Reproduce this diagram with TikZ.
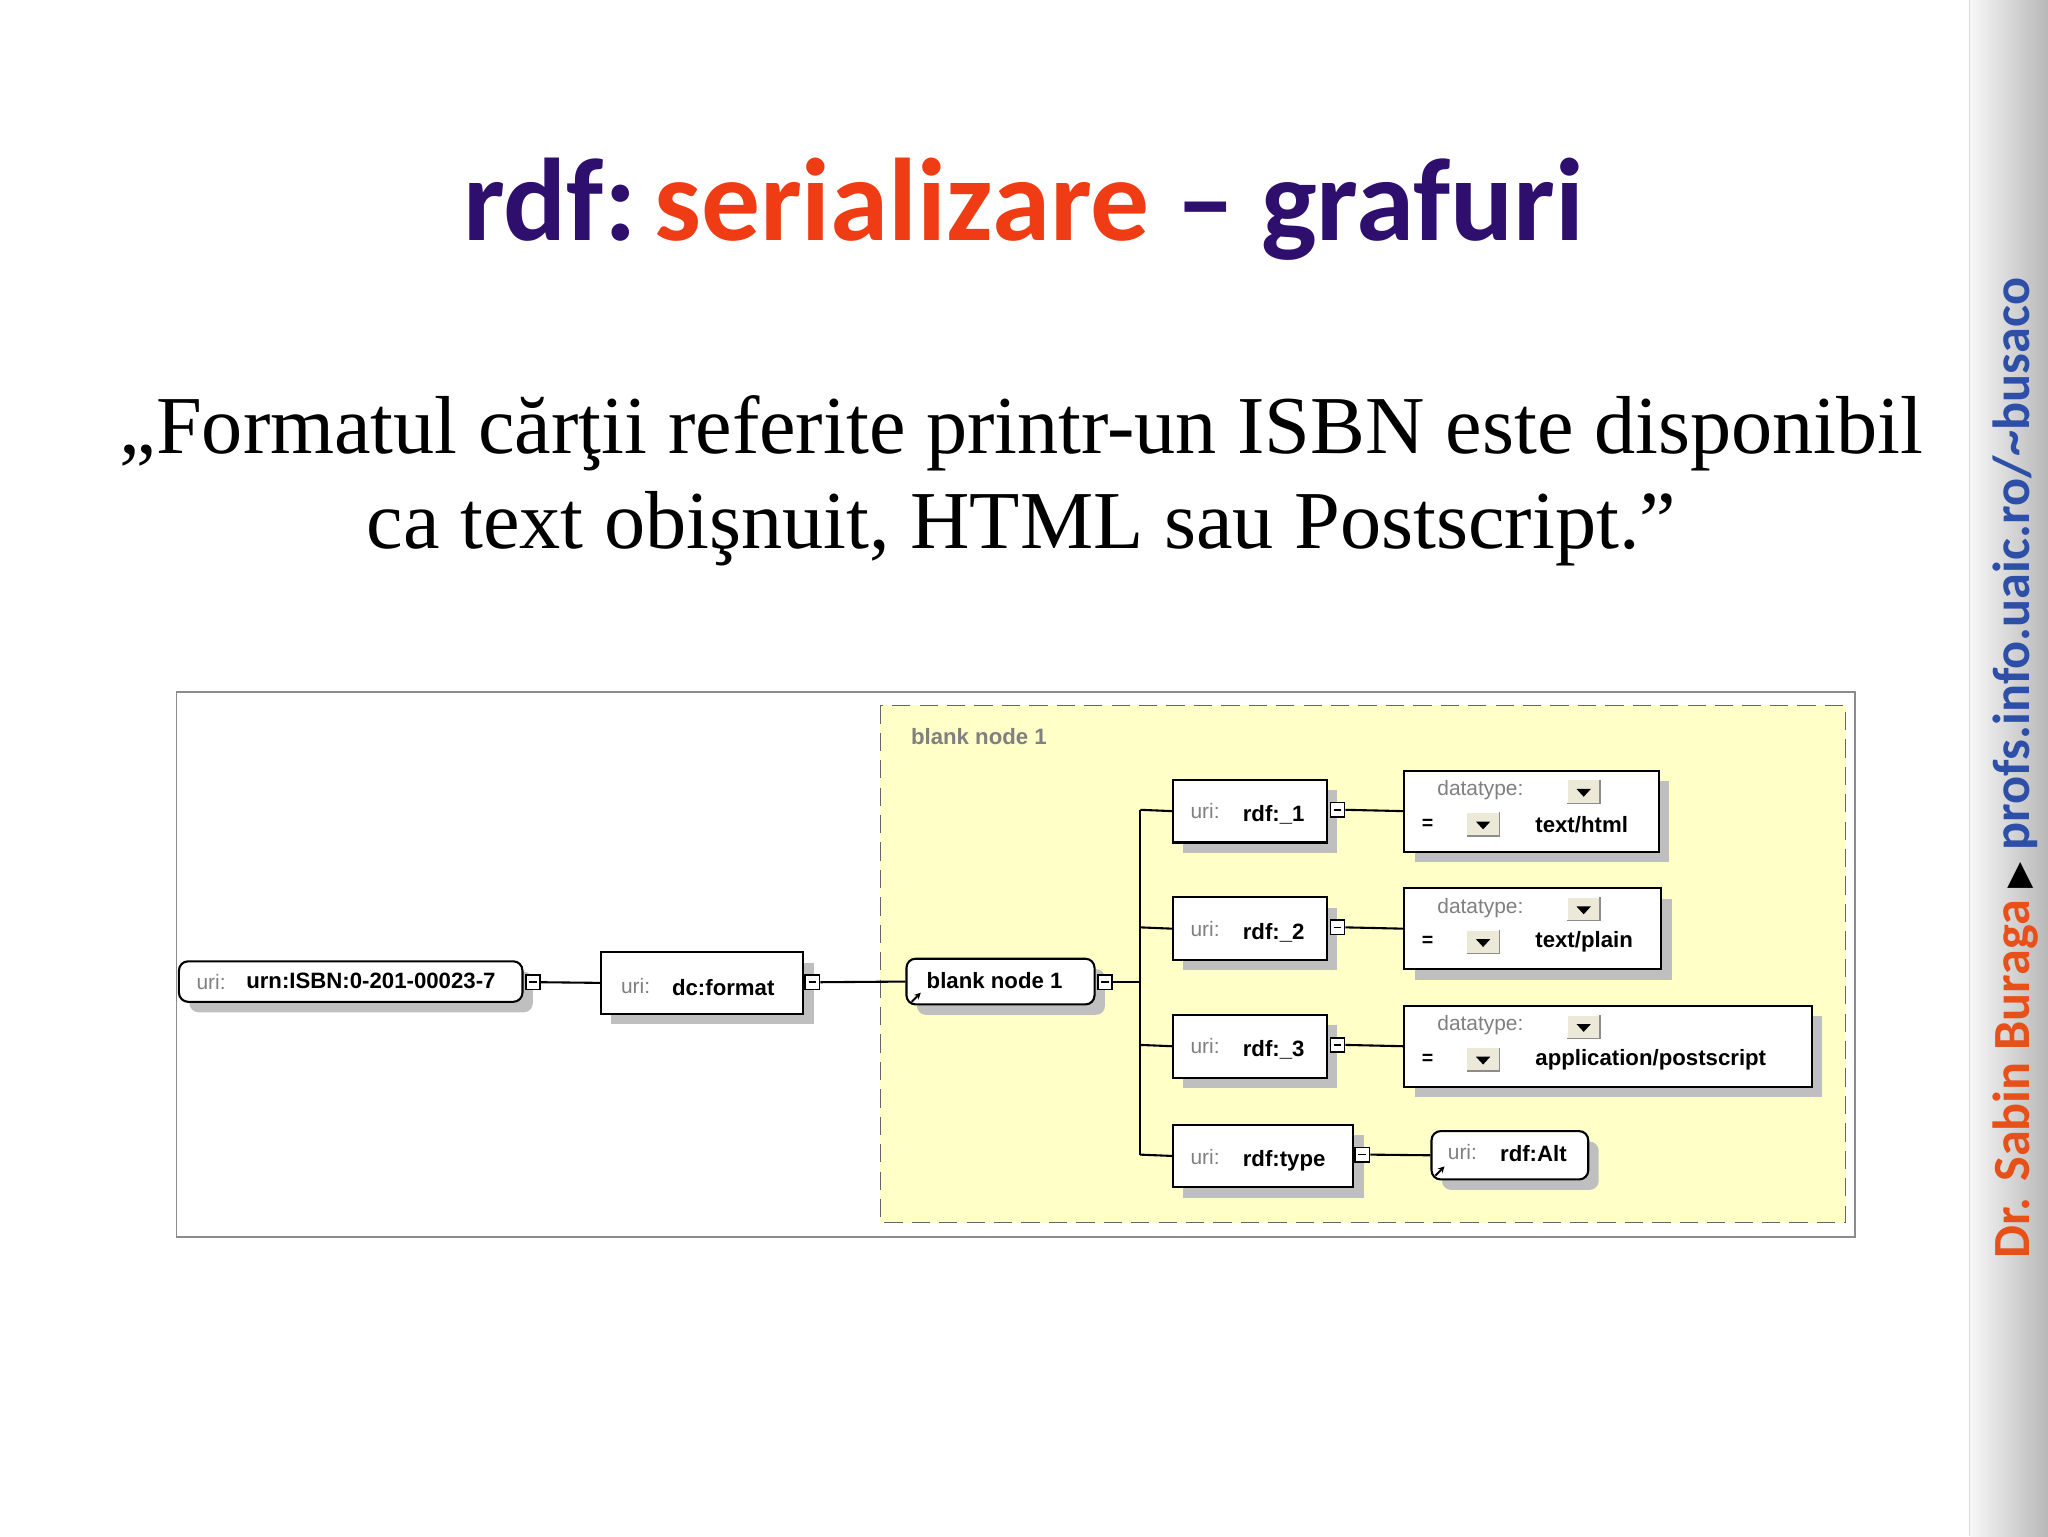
\documentclass[tikz,border=0pt]{standalone}
\usepackage{fontspec}
\setmainfont{Liberation Serif}
\newfontfamily\calfnt{Carlito}
\newfontfamily\tah{Liberation Sans}
\newfontfamily\dv{DejaVu Sans}
\definecolor{tpurple}{HTML}{2E0F6E}
\definecolor{torange}{HTML}{F03C14}
\definecolor{sorange}{HTML}{E8501A}
\definecolor{sblue}{HTML}{2E4FA8}
\definecolor{ylw}{HTML}{FFFFC8}
\definecolor{btn}{HTML}{ECE9D8}
\usetikzlibrary{arrows.meta}
\tikzset{
 x=1pt,y=-1pt,
 box/.style={draw=black,line width=1.6pt,fill=white,inner sep=0pt},
 shad/.style={fill=black!25,draw=none},
 col/.style={draw=black,line width=1.2pt,fill=white,minimum width=11pt,minimum height=11pt,inner sep=0pt},
 conn/.style={line width=1.6pt},
 uril/.style={font=\tah\fontsize{16}{16}\selectfont,text=black!50,anchor=west},
 bl/.style={font=\tah\bfseries\fontsize{17}{17}\selectfont,anchor=west},
}
\newcommand{\rbox}[5]{% name x1 y1 x2 y2
 \fill[shad] (#2+8,#3+8) rectangle (#4+8,#5+8);
 \node[box,rectangle,minimum width=#4-#2,minimum height=#5-#3] (#1) at ({(#2+#4)/2},{(#3+#5)/2}) {};}
\newcommand{\rrbox}[5]{%
 \fill[shad,rounded corners=7pt] (#2+8,#3+8) rectangle (#4+8,#5+8);
 \node[box,rounded corners=7pt,rectangle,minimum width=#4-#2,minimum height=#5-#3] (#1) at ({(#2+#4)/2},{(#3+#5)/2}) {};}
\newcommand{\colb}[3]{\node[col] (#1) at (#2,#3) {}; \draw[line width=1.2pt] (#2-3,#3)--(#2+3,#3);}
\newcommand{\ddb}[2]{\fill[btn] (#1,#2) rectangle ++(25,18); \draw[white,line width=1pt] (#1,#2+18)--(#1,#2)--(#1+25,#2); \draw[black!45,line width=1pt] (#1,#2+18)--(#1+25,#2+18)--(#1+25,#2);
 \fill[black] (#1+7,#2+7)--(#1+18,#2+7)--(#1+12.5,#2+13)--cycle;}
\newcommand{\arr}[2]{\draw[line width=1.5pt,-{Stealth[length=5pt,width=5pt]}] (#1,#2)--(#1+7,#2-7);}
\begin{document}
\begin{tikzpicture}
\useasboundingbox (0,0) rectangle (1568,1176);
\fill[white] (0,0) rectangle (1568,1176);
% sidebar
\shade[left color=black!3,right color=black!28] (1508,0) rectangle (1568,1176);
\draw[black!15,line width=1pt] (1508,0)--(1508,1176);
\node[rotate=90,font=\calfnt\bfseries\fontsize{40}{40}\selectfont,anchor=center] (side) at (1543,588)
 {\textcolor{sorange}{Dr. Sabin Buraga} {\dv\fontsize{26}{26}\selectfont ▶} \textcolor{sblue}{profs.info.uaic.ro/\textasciitilde busaco}};
% title
\node[font=\calfnt\bfseries\fontsize{90}{90}\selectfont] (title) at (784,160)
 {\textcolor{tpurple}{rdf:}\hspace{0.15em}\textcolor{torange}{serializare} \textcolor{tpurple}{– grafuri}};
\node[font=\fontsize{63}{73}\selectfont,align=center] (quote) at (782,368)
 {„Formatul cărţii referite printr-un ISBN este disponibil\\ca text obişnuit, HTML sau Postscript.”};
% diagram frame
\draw[black!45,line width=1.2pt,fill=white] (135,530) rectangle (1420,947);
\draw[black!60,fill=ylw,line width=1.2pt,dash pattern=on 14pt off 7pt] (674,540) rectangle (1413,936);
\node[font=\tah\bfseries\fontsize{17}{17}\selectfont,text=black!50,anchor=west] (bnlabel) at (694,564) {blank node 1};
% urn
\rrbox{urn}{137}{736}{400}{767}
\node[uril] at (147,752) {uri:}; \node[bl] at (185,751) {urn:ISBN:0-201-00023-7};
\colb{c1}{408}{752}
% dc:format
\rbox{dcf}{460}{729}{615}{776}
\node[uril] at (472,755) {uri:}; \node[bl] at (511,756) {dc:format};
\colb{c2}{622}{752}
% blank node
\rrbox{bn}{694}{734}{838}{769}
\node[bl] at (706,751) {blank node 1}; \arr{698}{767}
\colb{c3}{846}{752}
\coordinate (tr) at (873,752);
\draw[conn] (c1.east)--(dcf.west);
\draw[conn] (c2.east)--(bn.west);
\draw[conn] (c3.east)--(tr);
% properties
\rbox{p1}{898}{597}{1016}{645}
\rbox{p2}{898}{687}{1016}{735}
\rbox{p3}{898}{777}{1016}{825}
\rbox{p4}{898}{861}{1036}{909}
\foreach \y/\t in {621/{rdf:\_1},711/{rdf:\_2},801/{rdf:\_3},886/{rdf:type}}{
 \node[uril] at (908,\y) {uri:}; \node[bl] at (948,\y+3) {\t};}
\colb{q1}{1024}{620}
\colb{q2}{1024}{710}
\colb{q3}{1024}{800}
\colb{q4}{1043}{884}
\coordinate (t1) at (873,620); \coordinate (t4) at (873,884);
\draw[conn] (t1)--(t4);
\draw[conn] (t1)--(p1.west); \draw[conn] (873,710)--(p2.west); \draw[conn] (873,800)--(p3.west); \draw[conn] (t4)--(p4.west);
% values
\rbox{v1}{1075}{590}{1270}{652}
\rbox{v2}{1075}{680}{1272}{742}
\rbox{v3}{1075}{770}{1387}{832}
\foreach \y/\t in {590/{text/html},680/{text/plain},770/{application/postscript}}{
 \node[uril] at (1097,\y+15) {datatype:};
 \ddb{1200}{\y+7}
 \node[font=\tah\bfseries\fontsize{15}{15}\selectfont,anchor=west] at (1085,\y+41) {=};
 \ddb{1123}{\y+32}
 \node[bl] at (1172,\y+41) {\t};}
\draw[conn] (q1.east)--(v1.west);
\draw[conn] (q2.east)--(v2.west);
\draw[conn] (q3.east)--(v3.west);
\rrbox{alt}{1096}{866}{1216}{903}
\node[uril] at (1105,882) {uri:}; \node[bl] at (1145,883) {rdf:Alt}; \arr{1099}{900}
\draw[conn] (q4.east)--(alt.west);
\end{tikzpicture}
\end{document}
